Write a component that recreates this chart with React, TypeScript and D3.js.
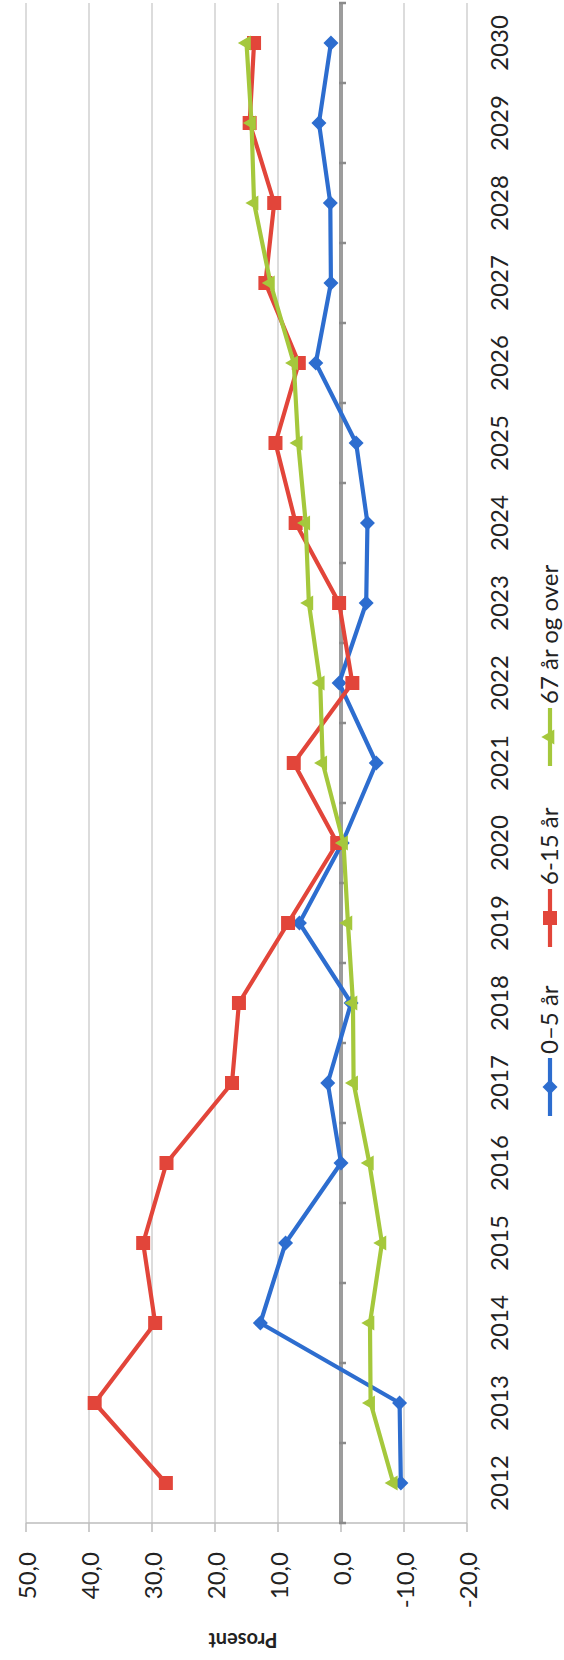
import React from 'react';
import * as d3 from 'd3';

const years = ['2012','2013','2014','2015','2016','2017','2018','2019','2020','2021','2022','2023','2024','2025','2026','2027','2028','2029','2030'];
const ages0to5 = [-9.5, -9.3, 12.8, 8.8, 0.0, 2.1, -1.6, 6.6, -0.2, -5.6, 0.3, -4.0, -4.2, -2.4, 4.0, 1.6, 1.7, 3.5, 1.6];
const ages6to15 = [27.8, 39.1, 29.5, 31.4, 27.7, 17.3, 16.2, 8.4, 0.6, 7.5, -1.8, 0.3, 7.2, 10.4, 6.7, 12.0, 10.6, 14.5, 13.8];
const ages67plus = [-8.3, -4.7, -4.6, -6.5, -4.5, -2.0, -1.9, -1.1, -0.4, 2.9, 3.3, 5.1, 5.6, 6.8, 7.5, 11.2, 13.8, 14.2, 15.0];
const valueTicks = [50, 40, 30, 20, 10, 0, -10, -20];
const seriesNames = ['0–5 år', '6-15 år', '67 år og over'];
const seriesColors = ['#2d6dcf', '#e2453a', '#a5c83c'];
const axisTitle = 'Prosent';

const FONT = 'Lato, "Open Sans", sans-serif';

export default function App() {
  const H = 1660;
  const W = 564;
  // original (unrotated) frame: u along years, v along values (downwards)
  const x = d3.scalePoint<string>().domain(years).range([137, 1657]).padding(0.5);
  const y = d3.scaleLinear().domain([-20, 50]).range([467, 26]);
  const loc = d3.formatLocale({ decimal: ',', thousands: ' ', grouping: [3], currency: ['', ' kr'], minus: '-' });
  const fmt = loc.format('.1f');
  const line = d3.line<number>().x((_, i) => x(years[i]) as number).y((d) => y(d));
  const allSeries = [ages0to5, ages6to15, ages67plus];
  const step = x.step();
  const u0 = 137, u1 = 1657;

  const marker = (k: number, cx: number, cy: number, key: string) => {
    const c = seriesColors[k];
    if (k === 0) {
      const r = 7.5;
      return <path key={key} d={`M${cx},${cy - r}L${cx + r},${cy}L${cx},${cy + r}L${cx - r},${cy}Z`} fill={c} />;
    }
    if (k === 1) {
      const s = 14;
      return <rect key={key} x={cx - s / 2} y={cy - s / 2} width={s} height={s} fill={c} />;
    }
    const s = 15;
    const h = s * Math.sqrt(3) / 2;
    return <path key={key} d={`M${cx},${cy - h * 2 / 3}L${cx + s / 2},${cy + h / 3}L${cx - s / 2},${cy + h / 3}Z`} fill={c} />;
  };

  const legendU = [573, 742, 923];

  return (
    <svg width={W} height={H} style={{ position: 'absolute', left: 0, top: 0, background: '#fff' }} fontFamily={FONT}>
      <rect x={0} y={0} width={W} height={H} fill="#fff" />
      <g transform={`translate(0,${H}) rotate(-90)`}>
        {/* gridlines */}
        {valueTicks.filter((t) => t !== 0).map((t) => (
          <line key={'g' + t} x1={u0} x2={u1} y1={y(t)} y2={y(t)} stroke="#c9c9c9" strokeWidth={1.3} />
        ))}
        {/* value axis line and ticks */}
        <line x1={u0} x2={u0} y1={y(50)} y2={y(-20)} stroke="#bdbdbd" strokeWidth={1.5} />
        {valueTicks.map((t) => (
          <line key={'t' + t} x1={u0 - 9} x2={u0} y1={y(t)} y2={y(t)} stroke="#bdbdbd" strokeWidth={1.5} />
        ))}
        {valueTicks.map((t) => (
          <text key={'l' + t} x={108} y={y(t)} textAnchor="end" dominantBaseline="central" fontSize={24} fill="#222">
            {fmt(t)}
          </text>
        ))}
        {/* zero axis */}
        <line x1={u0} x2={u1} y1={y(0)} y2={y(0)} stroke="#9c9c9c" strokeWidth={4} />
        {d3.range(years.length + 1).map((k) => (
          <line key={'ct' + k} x1={u0 + k * step} x2={u0 + k * step} y1={y(0) - 2} y2={y(0) + 5} stroke="#8a8a8a" strokeWidth={2.5} />
        ))}
        {/* title */}
        <text x={19} y={243} transform="rotate(-90,19,243)" textAnchor="middle" dominantBaseline="central" fontSize={20} fontWeight="bold" fill="#222">
          {axisTitle}
        </text>
        {/* year labels */}
        {years.map((yr) => (
          <text key={'y' + yr} x={x(yr)} y={508} textAnchor="middle" fontSize={24} fill="#222">
            {yr}
          </text>
        ))}
        {/* series */}
        {allSeries.map((s, k) => (
          <g key={'s' + k}>
            <path d={line(s) || ''} fill="none" stroke={seriesColors[k]} strokeWidth={4.2} strokeLinejoin="round" />
            {s.map((v, i) => marker(k, x(years[i]) as number, y(v), `m${k}-${i}`))}
          </g>
        ))}
        {/* legend */}
        {seriesNames.map((name, k) => (
          <g key={'lg' + k}>
            <line x1={legendU[k] - 29} x2={legendU[k] + 29} y1={550} y2={550} stroke={seriesColors[k]} strokeWidth={4.2} />
            {marker(k, legendU[k], 550, 'lm' + k)}
            <text x={legendU[k] + 33} y={558} fontSize={24} fill="#222">
              {name}
            </text>
          </g>
        ))}
      </g>
    </svg>
  );
}
